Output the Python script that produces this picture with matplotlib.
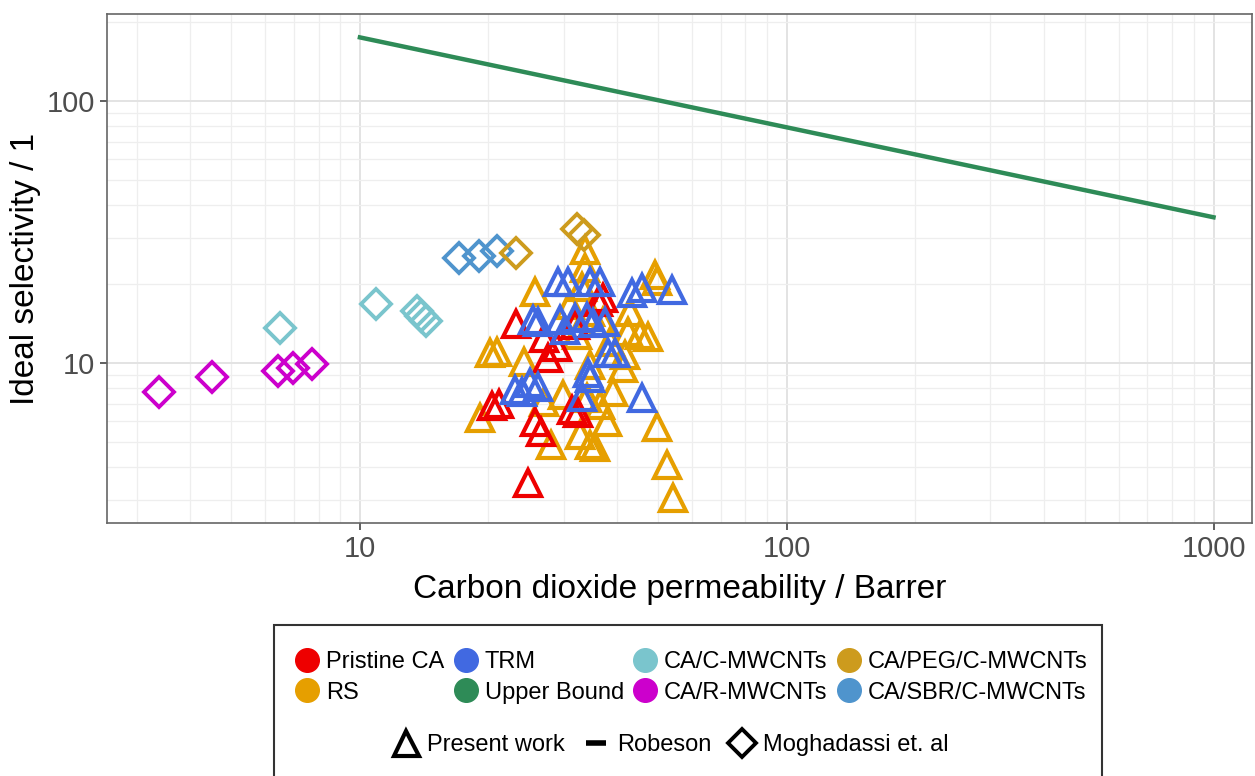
import matplotlib.pyplot as plt
from matplotlib.lines import Line2D
from matplotlib.patches import Rectangle

plt.rcParams['font.family'] = ['Liberation Sans', 'DejaVu Sans']

# Present work (triangles) - CO2 permeability (Barrer) and ideal selectivity
pristine_perm = [23.2, 27.6, 28.9, 27.0, 20.4, 21.2, 25.7, 26.5, 24.7, 31.4, 32.4, 37.1, 36.1, 31.9]
pristine_sel = [14.1, 10.45, 11.5, 12.45, 6.85, 6.98, 5.95, 5.45, 3.48, 6.62, 6.44, 17.7, 17.1, 13.96]

rs_perm = [33.6, 33.6, 33.1, 25.7, 31.0, 34.6, 42.9, 49.1, 49.6, 37.1, 32.2, 42.4,
           45.3, 47.2, 38.5, 41.7, 34.6, 41.3, 20.9, 20.2, 24.3, 19.1, 27.0, 29.9,
           34.0, 36.5, 39.2, 37.9, 32.7, 28.1, 34.6, 35.5, 49.6, 52.3, 54.2]
rs_sel = [27.0, 23.0, 19.5, 18.7, 16.6, 15.7, 15.7, 21.7, 20.6, 14.3, 12.8, 13.1,
          12.8, 12.6, 12.0, 10.7, 9.8, 9.57, 11.0, 10.9, 10.1, 6.17, 7.1, 7.55,
          7.35, 6.91, 7.75, 5.95, 5.31, 4.86, 4.86, 4.78, 5.7, 4.08, 3.05]

trm_perm = [29.1, 30.7, 34.6, 36.5, 43.4, 45.8, 53.8, 25.4, 26.1, 29.4, 30.2, 34.0, 35.2,
            37.5, 38.1, 39.5, 34.2, 34.6, 23.1, 24.0, 25.0, 26.1, 33.1, 45.8, 31.9]
trm_sel = [20.4, 20.4, 20.4, 20.4, 18.5, 19.3, 19.0, 14.6, 14.3, 14.6, 13.4, 15.0, 14.2,
           14.3, 10.9, 10.9, 9.15, 8.77, 7.89, 7.75, 8.39, 8.1, 7.42, 7.35, 14.85]

# Robeson upper bound
ub_perm = [10, 1000]
ub_sel = [175, 36]

# Moghadassi et. al (diamonds)
cmw_perm = [6.5, 10.9, 13.6, 13.9, 14.3]
cmw_sel = [13.6, 16.8, 15.8, 15.1, 14.5]
rmw_perm = [3.38, 4.50, 6.43, 6.97, 7.72]
rmw_sel = [7.74, 8.84, 9.32, 9.57, 9.9]
peg_perm = [23.2, 32.2, 33.5]
peg_sel = [26.3, 32.5, 30.8]
sbr_perm = [17.1, 19.0, 21.0]
sbr_sel = [25.2, 25.6, 26.8]

colors = {
    'Pristine CA': '#ee0000',
    'RS': '#E69F00',
    'TRM': '#4169E1',
    'Upper Bound': '#2E8B57',
    'CA/C-MWCNTs': '#7AC5CD',
    'CA/R-MWCNTs': '#CC00CC',
    'CA/PEG/C-MWCNTs': '#CD9B1D',
    'CA/SBR/C-MWCNTs': '#4F94CD',
}

fig = plt.figure(figsize=(12.55, 7.76), dpi=100)
ax = fig.add_axes([0.0853, 0.326, 0.9127, 0.656])

tri = dict(marker='^', ls='none', mfc='none', ms=19, mew=3.0)
dia = dict(marker='D', ls='none', mfc='none', ms=15, mew=2.8)

ax.plot(ub_perm, ub_sel, color=colors['Upper Bound'], lw=3.2)
ax.plot(rs_perm, rs_sel, mec=colors['RS'], **tri)
ax.plot(pristine_perm, pristine_sel, mec=colors['Pristine CA'], **tri)
ax.plot(trm_perm, trm_sel, mec=colors['TRM'], **tri)
ax.plot(cmw_perm, cmw_sel, mec=colors['CA/C-MWCNTs'], **dia)
ax.plot(rmw_perm, rmw_sel, mec=colors['CA/R-MWCNTs'], **dia)
ax.plot(sbr_perm, sbr_sel, mec=colors['CA/SBR/C-MWCNTs'], **dia)
ax.plot(peg_perm, peg_sel, mec=colors['CA/PEG/C-MWCNTs'], **dia)

ax.set_xscale('log')
ax.set_yscale('log')
ax.set_xlim(2.556, 1234)
ax.set_ylim(2.45, 215)

ax.set_xticks([10, 100, 1000])
ax.set_xticklabels(['10', '100', '1000'])
ax.set_xticks([3, 4, 5, 6, 7, 8, 9, 20, 30, 40, 50, 60, 70, 80, 90,
               200, 300, 400, 500, 600, 700, 800, 900], minor=True)
ax.set_yticks([10, 100])
ax.set_yticklabels(['10', '100'])
ax.set_yticks([3, 4, 5, 6, 7, 8, 9, 20, 30, 40, 50, 60, 70, 80, 90, 200], minor=True)
ax.grid(which='major', color='#e3e3e3', lw=1.4)
ax.grid(which='minor', color='#eeeeee', lw=0.9)
ax.set_axisbelow(True)
ax.tick_params(which='minor', length=0)
ax.tick_params(which='major', length=5, width=1.2, color='#444444',
               labelsize=21, labelcolor='#4d4d4d')
for s in ax.spines.values():
    s.set_color('#666666')
    s.set_linewidth(1.2)

ax.set_xlabel('Carbon dioxide permeability / Barrer', fontsize=24, labelpad=8)
ax.set_ylabel('Ideal selectivity / 1', fontsize=24, labelpad=4)

# legend
color_handles = [Line2D([], [], marker='o', ls='none', ms=17, color=c, label=k)
                 for k, c in colors.items()]
leg1 = fig.legend(handles=color_handles, loc='center', bbox_to_anchor=(0.551, 0.127),
                  ncol=4, frameon=False, fontsize=17, handlelength=1.0,
                  handletextpad=0.3, columnspacing=0.4, labelspacing=0.35)

shape_handles = [
    Line2D([], [], marker='^', ls='none', mfc='none', mec='black', mew=3, ms=18, label='Present work'),
    Line2D([], [], marker='_', ls='none', color='black', mew=4, ms=14, label='Robeson'),
    Line2D([], [], marker='D', ls='none', mfc='none', mec='black', mew=2.8, ms=14, label='Moghadassi et. al'),
]
leg2 = fig.legend(handles=shape_handles, loc='center', bbox_to_anchor=(0.534, 0.04),
                  ncol=3, frameon=False, fontsize=17, handlelength=1.2,
                  handletextpad=0.3, columnspacing=0.7)

fig.add_artist(Rectangle((0.2183, -0.05), 0.6598, 0.2446, transform=fig.transFigure,
                         fill=False, ec='#333333', lw=1.5))

fig.savefig('out.png', dpi=100)
